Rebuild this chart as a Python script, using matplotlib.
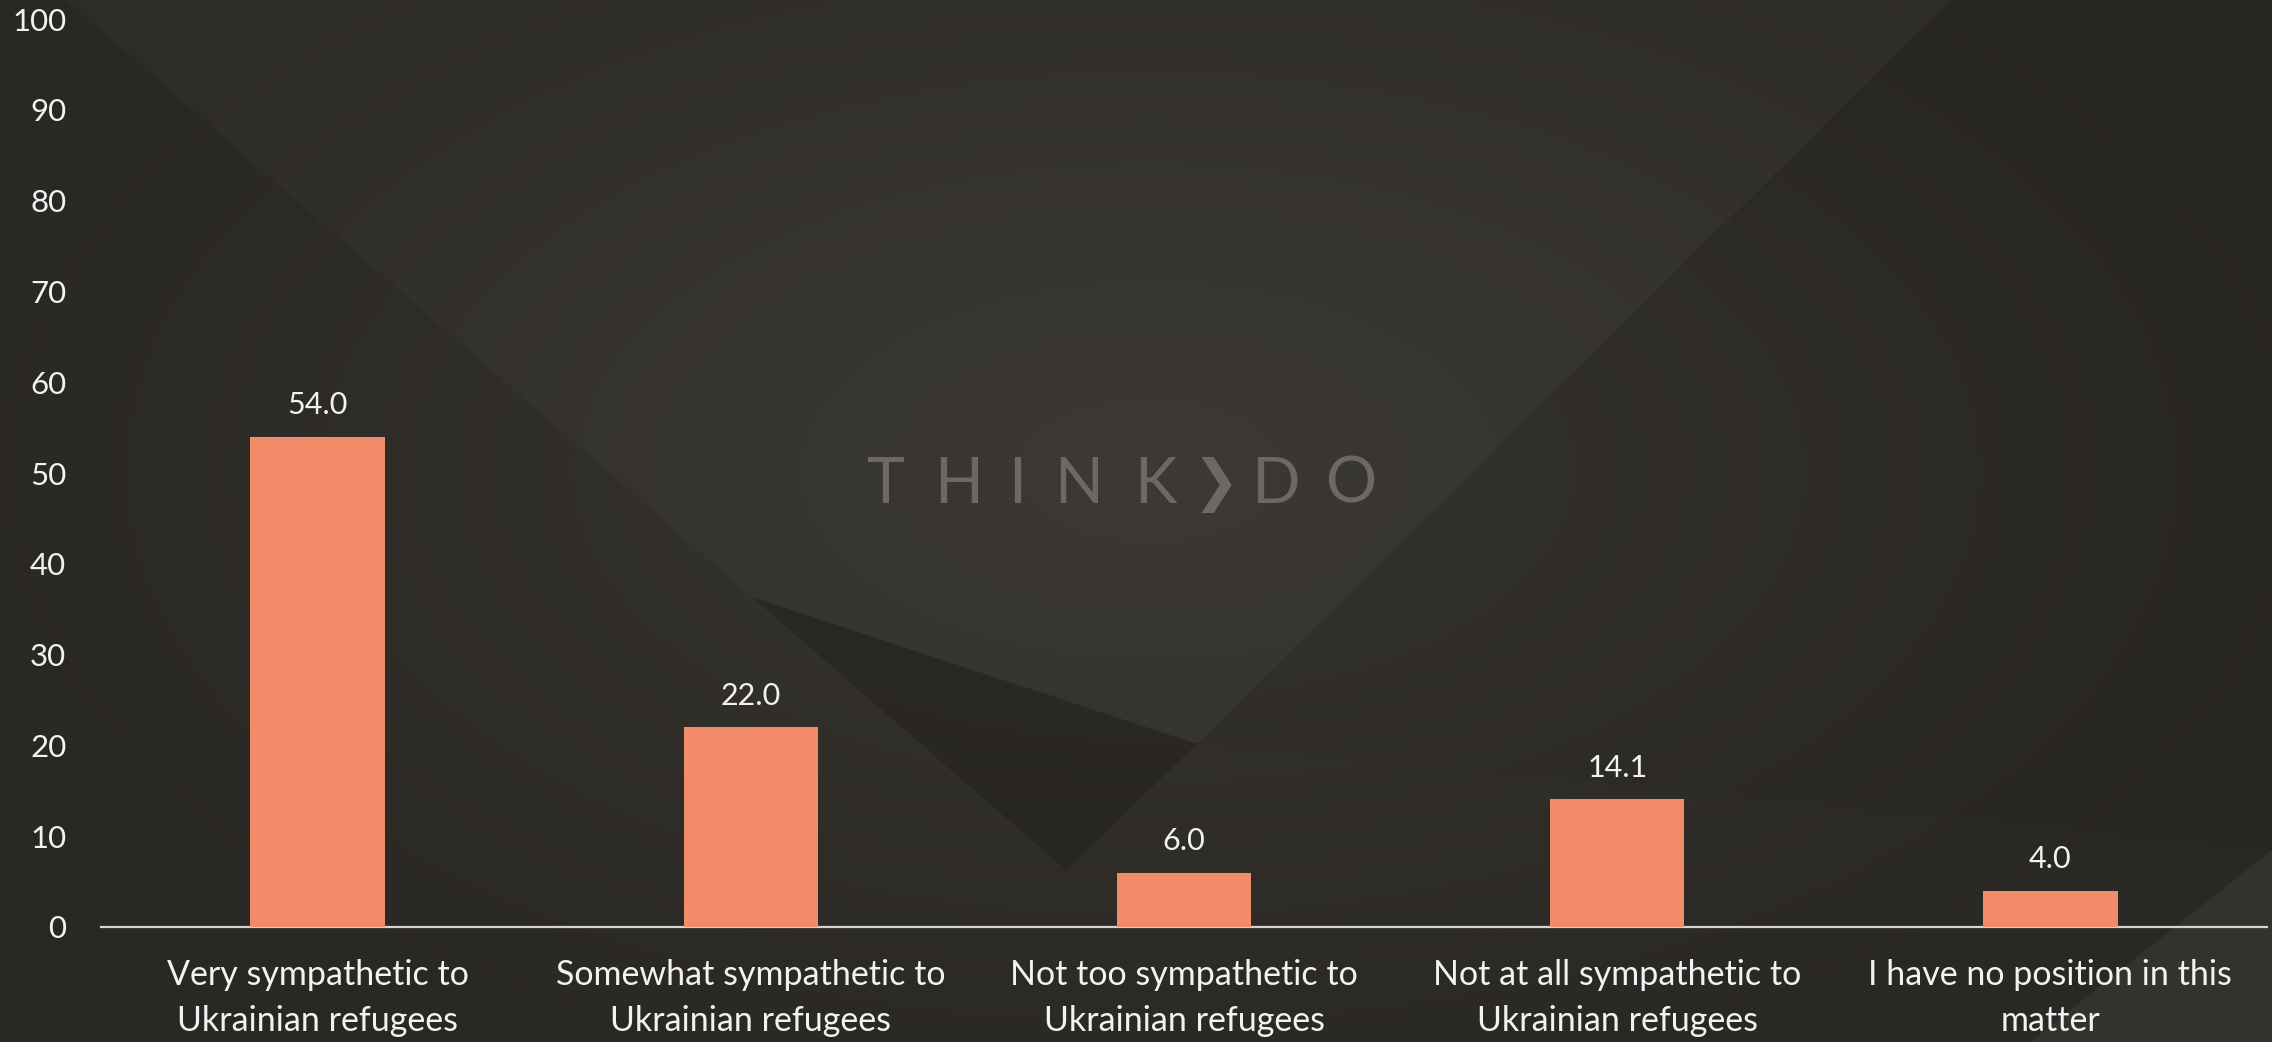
import numpy as np
import matplotlib
matplotlib.use("Agg")
from matplotlib import pyplot as plt
from matplotlib.patches import Polygon

# data
categories = ["Very sympathetic to\nUkrainian refugees",
              "Somewhat sympathetic to\nUkrainian refugees",
              "Not too sympathetic to\nUkrainian refugees",
              "Not at all sympathetic to\nUkrainian refugees",
              "I have no position in this\nmatter"]
values = [54.0, 22.0, 6.0, 14.1, 4.0]
yticks = list(range(0, 101, 10))

plt.rcParams['font.family'] = ['Lato', 'DejaVu Sans']

W, H = 2272, 1042
fig = plt.figure(figsize=(W / 100, H / 100), dpi=100)

# background: dark radial gradient with some faint angular shapes
bg = fig.add_axes([0, 0, 1, 1], zorder=0)
bg.set_xlim(0, W)
bg.set_ylim(H, 0)
bg.axis('off')
yy, xx = np.mgrid[0:H, 0:W]
d = np.sqrt(((xx - 1150) / 1300.0) ** 2 + ((yy - 470) / 700.0) ** 2)
t = np.clip(1 - d, 0, 1) ** 1.3
c0 = np.array([0x2a, 0x28, 0x24]) / 255
c1 = np.array([0x3a, 0x37, 0x31]) / 255
img = c0[None, None, :] + (c1 - c0)[None, None, :] * t[..., None]
bg.imshow(img, extent=[0, W, H, 0], aspect='auto', interpolation='bilinear')

# lighter wedge in the middle
bg.add_patch(Polygon([(66, 0), (1951, 0), (1197, 744), (752, 597)],
                     closed=True, color='#ffffff', alpha=0.018, lw=0))
# upper right darker area
bg.add_patch(Polygon([(1951, 0), (W, 0), (W, 850), (1197, 744)],
                     closed=True, color='#000000', alpha=0.04, lw=0))
# dark triangle
bg.add_patch(Polygon([(752, 597), (1197, 744), (1066, 870)],
                     closed=True, color='#1e1c19', alpha=0.4, lw=0))
# bottom right lighter corner
bg.add_patch(Polygon([(W, 850), (W, H), (2030, H)],
                     closed=True, color='#ffffff', alpha=0.05, lw=0))

# watermark
wm_color = '#6e6862'
for ch, px in zip("THINKDO", [886, 959, 1017, 1079, 1155, 1275, 1352]):
    fig.text(px / W, 1 - 485 / H, ch, fontsize=46, fontweight='normal',
             color=wm_color, ha='center', va='center', zorder=1)
fig.text(1216 / W, 1 - 485 / H, "\u276f", fontsize=40, color=wm_color,
         family='DejaVu Sans', ha='center', va='center', zorder=1)

# chart
ax = fig.add_axes([101 / W, 1 - 927 / H, (2267 - 101) / W, (927 - 19) / H], zorder=2)
ax.patch.set_alpha(0)
x = np.arange(len(categories))
bars = ax.bar(x, values, width=0.31, color='#F28B69', zorder=3)
for xi, v in zip(x, values):
    ax.annotate(f"{v:.1f}", (xi, v), xytext=(0, 16), textcoords='offset points',
                ha='center', va='baseline', fontsize=22, color='#f2f2f2')

ax.set_xlim(-0.5, len(categories) - 0.5)
ax.set_ylim(0, 100)
ax.set_yticks(yticks)
ax.set_xticks(x)
ax.set_xticklabels(categories, fontsize=24.5, color='#f2f2f2', linespacing=1.55)
ax.tick_params(axis='y', length=0, pad=25, labelsize=22.5, labelcolor='#f2f2f2')
ax.tick_params(axis='x', length=0, pad=23)
for s in ['top', 'right', 'left']:
    ax.spines[s].set_visible(False)
ax.spines['bottom'].set_color('#d4d4d4')
ax.spines['bottom'].set_linewidth(1.6)

fig.savefig("out.png", dpi=100)
